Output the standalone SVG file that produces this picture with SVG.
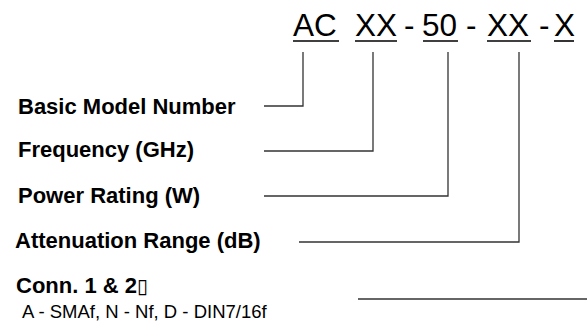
<svg xmlns="http://www.w3.org/2000/svg" width="587" height="324" viewBox="0 0 587 324">
<style>
.code{font-family:"Liberation Sans",Arial,sans-serif;font-size:31.5px;fill:#000}
.lbl{font-family:"Liberation Sans",Arial,sans-serif;font-size:22px;font-weight:bold;fill:#000}
.sub{font-family:"Liberation Sans",Arial,sans-serif;font-size:18.5px;fill:#000}
.ul{stroke:#000;stroke-width:1.6;fill:none}
.con{stroke:#333;stroke-width:1.3;fill:none}
</style>
<rect width="587" height="324" fill="#fff"/>
<g id="code">
<text class="code" x="293" y="36">AC</text>
<text class="code" x="355" y="36">XX</text>
<text class="code" x="404" y="36">-</text>
<text class="code" x="422" y="36">50</text>
<text class="code" x="466" y="36">-</text>
<text class="code" x="487" y="36">XX</text>
<text class="code" x="539" y="36">-</text>
<text class="code" x="554" y="36">X</text>
<line class="ul" x1="293" y1="41" x2="339" y2="41"/>
<line class="ul" x1="355" y1="41" x2="397" y2="41"/>
<line class="ul" x1="423" y1="41" x2="458" y2="41"/>
<line class="ul" x1="487" y1="41" x2="531" y2="41"/>
<line class="ul" x1="554" y1="41" x2="574" y2="41"/>
</g>
<g id="basic"><text class="lbl" x="18" y="114">Basic Model Number</text></g>
<g id="freq"><text class="lbl" x="18" y="157">Frequency (GHz)</text></g>
<g id="power"><text class="lbl" x="18" y="203">Power Rating (W)</text></g>
<g id="atten"><text class="lbl" x="15" y="248">Attenuation Range (dB)</text></g>
<g id="conn">
<text class="lbl" x="16" y="293">Conn. 1 &amp; 2<tspan font-family="DejaVu Sans" font-weight="normal" font-size="20">▯</tspan></text>
<text class="sub" x="22" y="318">A - SMAf, N - Nf, D - DIN7/16f</text>
</g>
<g id="connectors">
<polyline class="con" points="264,106 303,106 303,52"/>
<polyline class="con" points="264,151 373,151 373,52"/>
<polyline class="con" points="264,196 448,196 448,52"/>
<polyline class="con" points="299,242 519,242 519,52"/>
<line class="con" x1="358" y1="299" x2="587" y2="299"/>
</g>
</svg>
